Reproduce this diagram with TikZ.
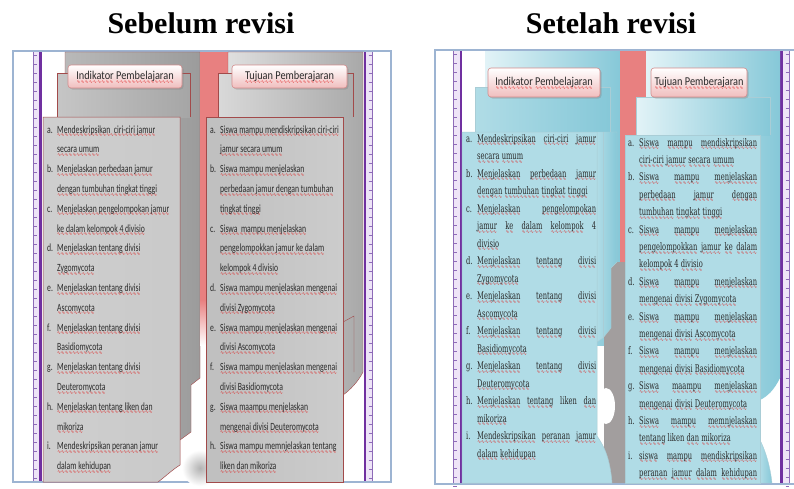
\documentclass[tikz,border=0pt]{standalone}
\usepackage{fontspec}
\usetikzlibrary{shadows}
\setmainfont{Liberation Serif}
\newfontfamily\handfont[FakeStretch=0.7]{Carlito}
\newfontfamily\tabfont[FakeStretch=0.86]{Carlito}
\newfontfamily\bookfont[FakeStretch=0.64]{DejaVu Serif}
\newfontfamily\wavefamily{DejaVu Sans}

\definecolor{framebl}{HTML}{9DB4D2}
\definecolor{rulerpu}{HTML}{7030A0}
\definecolor{rulerbg}{HTML}{EEE4F7}
\definecolor{tickpu}{HTML}{8E6BB8}
\definecolor{stripred}{HTML}{E88080}
\definecolor{edgered}{HTML}{A24A4A}
\definecolor{tabpink}{HTML}{F0BEBE}
\definecolor{tabedge}{HTML}{D48C8C}
\definecolor{squig}{HTML}{E02020}
\definecolor{inkgray}{HTML}{2A2A2A}
\definecolor{bluelt}{HTML}{E2F3F7}
\definecolor{bluedk}{HTML}{86C8D8}
\definecolor{bluemid}{HTML}{B0DCE6}
\definecolor{bluepale}{HTML}{EEF8FA}
\definecolor{edgeblue}{HTML}{A9CDD6}
\definecolor{shadowgray}{HTML}{A29E9E}

% red wavy underline (spell-check style), built from a repeated wave glyph
\newsavebox\ubox
\newcommand\wavefont{\wavefamily\fontsize{4.5}{5}\selectfont}
\newcommand\U[1]{\sbox\ubox{#1}%
  \rlap{\raisebox{-3.6pt}[0pt][0pt]{\makebox[\wd\ubox][l]{\color{squig}\xleaders\hbox{\wavefont ∿}\hfill}}}%
  \usebox\ubox}
\newlength\labw
\newlength\jw
\newcommand\lab[1]{\makebox[\labw][l]{#1}}
\newcommand\cont{\hspace*{\labw}}
\newcommand\J[1]{\makebox[\jw][s]{#1}}

\tikzset{
  hand/.style={font=\handfont\fontsize{11}{12}\selectfont, text=inkgray, inner sep=0pt, anchor=base west},
  book/.style={font=\bookfont\fontsize{10.5}{12}\selectfont, text=inkgray, inner sep=0pt, anchor=base west},
  tabbox/.style={draw=tabedge, line width=0.6pt, rounded corners=3pt, top color=white, bottom color=tabpink,
    drop shadow={opacity=0.35, shadow xshift=1.5pt, shadow yshift=-1.5pt},
    font=\tabfont\fontsize{12}{14}\selectfont, text=inkgray, inner sep=0pt},
  heading/.style={font=\bfseries\fontsize{30}{34}\selectfont, inner sep=0pt, anchor=base},
  ticks/.style={tickpu, line width=0.6pt},
}

\begin{document}
\begin{tikzpicture}[x=1pt,y=-1pt]
\useasboundingbox (0,0) rectangle (794,488);
\clip (0,0) rectangle (794,488);
\fill[white] (0,0) rectangle (794,488);

% ---------------- headings ----------------
\node[heading] (head1) at (201,33) {Sebelum revisi};
\node[heading] (head2) at (611,33) {Setelah revisi};

% ================= left panel =================
\draw[framebl, line width=1.5pt, fill=white] (13,51) rectangle (391,482);
% rulers
\fill[rulerbg] (33,52) rectangle (39.3,481);
\draw[tickpu, line width=0.5pt] (33,52) -- (33,481);
\foreach \k in {0,...,47} \draw[ticks] (33,{55+9*\k}) -- (36.5,{55+9*\k});
\fill[rulerpu] (39.3,52) rectangle (41.8,481);
\fill[rulerpu] (363.5,52) rectangle (366,481);
\fill[rulerbg] (366,52) rectangle (372,481);
\draw[tickpu, line width=0.5pt] (372,52) -- (372,481);
\foreach \k in {0,...,47} \draw[ticks] (368.5,{55+9*\k}) -- (372,{55+9*\k});

% back pages
\shade[left color=gray!55, middle color=gray!22, right color=gray!78, draw=edgered, line width=0.4pt]
  (65,52) -- (200,52) -- (200,378) -- (191,385) -- (191,432) -- (180,440) -- (65,440) -- cycle;
\fill[stripred] (200,52) rectangle (228,300);
\shade[top color=stripred, bottom color=white] (200,300) rectangle (228,345);
\shade[left color=gray!25, right color=gray!68, draw=edgered, line width=0.4pt]
  (228,52) -- (363,52) -- (363,372) .. controls (358,382) and (350,390) .. (343,395) -- (228,395) -- cycle;
\draw[edgered, line width=0.4pt] (343,322) -- (354,316) -- (354,372);
\shade[inner color=gray!60, outer color=white] (200,468) circle (18);
% middle tier of pages
\shade[left color=gray!45, middle color=gray!22, right color=gray!70, draw=edgered, line width=0.5pt]
  (57,117) -- (57,73) -- (190,73) -- (190,117);
\shade[left color=gray!30, middle color=gray!25, right color=gray!65, draw=edgered, line width=0.5pt]
  (218,117) -- (218,73) -- (353,73) -- (353,117);
% front text pages
\shade[left color=gray!38, middle color=gray!12, right color=gray!42, draw=edgered, line width=0.5pt]
  (43,117) -- (180,117) -- (180,465) .. controls (172,470) and (166,476) .. (158,482) -- (43,482) -- cycle;
\shade[left color=gray!50, middle color=gray!14, right color=gray!40, draw=edgered, line width=0.5pt]
  (206,117) -- (343,117) -- (343,482) -- (206,482) -- cycle;
% tabs
\node[tabbox, minimum width=114pt, minimum height=23pt] (tabA1) at (125,76.5) {\U{Indikator} \U{Pembelajaran}};
\node[tabbox, minimum width=115pt, minimum height=23pt] (tabA2) at (289.5,76.5) {\U{Tujuan} \U{Pemberajaran}};

% text, left page
\setlength{\labw}{10pt}
\foreach \t [count=\i from 0] in {
  {\lab{a.}\U{Mendeskripsikan\ \ ciri-ciri jamur}},
  {\cont\U{secara umum}},
  {\lab{b.}\U{Menjelaskan perbedaan jamur}},
  {\cont\U{dengan tumbuhan tingkat tinggi}},
  {\lab{c.}\U{Menjelaskan pengelompokan jamur}},
  {\cont\U{ke dalam kelompok 4 divisio}},
  {\lab{d.}\U{Menjelaskan tentang divisi}},
  {\cont\U{Zygomycota}},
  {\lab{e.}\U{Menjelaskan tentang divisi}},
  {\cont\U{Ascomycota}},
  {\lab{f.}\U{Menjelaskan tentang divisi}},
  {\cont\U{Basidiomycota}},
  {\lab{g.}\U{Menjelaskan tentang divisi}},
  {\cont\U{Deuteromycota}},
  {\lab{h.}\U{Menjelaskan tentang liken dan}},
  {\cont\U{mikoriza}},
  {\lab{i.}\U{Mendeskripsikan peranan jamur}},
  {\cont\U{dalam kehidupan}}}
  \node[hand] (la-\i) at (47,{133+19.8*\i}) {\t};
% text, right page
\foreach \t [count=\i from 0] in {
  {\lab{a.}\U{Siswa mampu mendiskripsikan ciri-ciri}},
  {\cont\U{jamur secara umum}},
  {\lab{b.}\U{Siswa mampu menjelaskan}},
  {\cont\U{perbedaan jamur dengan tumbuhan}},
  {\cont\U{tingkat tinggi}},
  {\lab{c.}\U{Siswa\ \ mampu menjelaskan}},
  {\cont\U{pengelompokkan jamur ke dalam}},
  {\cont\U{kelompok 4 divisio}},
  {\lab{d.}\U{Siswa mampu menjelaskan mengenai}},
  {\cont\U{divisi Zygomycota}},
  {\lab{e.}\U{Siswa mampu menjelaskan mengenai}},
  {\cont\U{divisi Ascomycota}},
  {\lab{f.}\U{Siswa mampu menjelaskan mengenai}},
  {\cont\U{divisi Basidiomycota}},
  {\lab{g.}\U{Siswa maampu menjelaskan}},
  {\cont\U{mengenai divisi Deuteromycota}},
  {\lab{h.}\U{Siswa mampu memnjelaskan tentang}},
  {\cont\U{liken dan mikoriza}}}
  \node[hand] (lb-\i) at (210,{133+19.8*\i}) {\t};

% ================= right panel =================
\draw[framebl, line width=1.5pt, fill=white] (435,50) rectangle (800,484);
\fill[rulerbg] (453,51) rectangle (459.5,483);
\draw[tickpu, line width=0.5pt] (453,51) -- (453,483);
\foreach \k in {0,...,48} \draw[ticks] (453,{54+9*\k}) -- (456.5,{54+9*\k});
\fill[rulerpu] (459.5,51) rectangle (462,483);
\fill[rulerpu] (780,51) rectangle (782.5,483);
\fill[rulerbg] (782.5,51) rectangle (789,483);
\draw[tickpu, line width=0.5pt] (789,51) -- (789,483);
\foreach \k in {0,...,48} \draw[ticks] (785.5,{54+9*\k}) -- (789,{54+9*\k});

% back pages
\shade[left color=bluelt, right color=bluedk] (485,51) rectangle (620,345);
\fill[stripred] (620,51) rectangle (646,268);
\fill[shadowgray] (604,262) rectangle (646,483);
\fill[white] (606,406) ellipse (9 and 18);
\shade[left color=bluelt, right color=bluedk]
  (646,51) -- (780,51) -- (780,378) .. controls (774,390) and (768,396) .. (760,400) -- (646,400) -- cycle;
\shade[left color=bluemid, right color=bluedk, draw=edgeblue, line width=0.4pt]
  (760,440) .. controls (766,452) and (770,466) .. (772,483) -- (760,483) -- cycle;
% middle tier of pages
\shade[left color=bluemid, middle color=bluelt, right color=bluedk, draw=edgeblue, line width=0.5pt]
  (475,132) -- (475,87) -- (610,87) -- (610,132);
\shade[left color=bluelt, right color=bluedk, draw=edgeblue, line width=0.5pt]
  (636,135) -- (636,97) -- (770,97) -- (770,135);
% curled edges between the pages
\shade[left color=bluemid, right color=bluedk, draw=edgeblue, line width=0.4pt]
  (597,132) -- (617,132) -- (617,262) -- (611,268) -- (611,328) -- (603,338) -- (597,342) -- cycle;
\draw[edgeblue, line width=0.4pt] (603,132) -- (603,338);
% front text pages
\shade[left color=bluemid, middle color=bluepale, right color=bluemid, draw=edgeblue, line width=0.5pt]
  (462,132) -- (597,132) -- (597,436) .. controls (604,446) and (610,458) .. (612,483) -- (462,483) -- cycle;
\shade[left color=bluemid, middle color=bluepale, right color=bluemid, draw=edgeblue, line width=0.5pt]
  (625,135) -- (760,135) -- (760,483) -- (625,483) -- cycle;
% tabs
\node[tabbox, minimum width=112pt, minimum height=29pt] (tabB1) at (544,82.5) {\U{Indikator} \U{Pembelajaran}};
\node[tabbox, minimum width=96pt, minimum height=29pt] (tabB2) at (699,82.5) {\U{Tujuan} \U{Pemberajaran}};

% text, left page
\setlength{\labw}{11pt}
\setlength{\jw}{119pt}
\foreach \t [count=\i from 0] in {
  {\lab{a.}\J{\U{Mendeskripsikan} \U{ciri-ciri} \U{jamur}}},
  {\cont\U{secara} \U{umum}},
  {\lab{b.}\J{\U{Menjelaskan} \U{perbedaan} \U{jamur}}},
  {\cont\U{dengan} \U{tumbuhan} \U{tingkat} \U{tinggi}},
  {\lab{c.}\J{\U{Menjelaskan} \U{pengelompokan}}},
  {\cont\J{\U{jamur} \U{ke} \U{dalam} \U{kelompok} 4}},
  {\cont\U{divisio}},
  {\lab{d.}\J{\U{Menjelaskan} \U{tentang} \U{divisi}}},
  {\cont\U{Zygomycota}},
  {\lab{e.}\J{\U{Menjelaskan} \U{tentang} \U{divisi}}},
  {\cont\U{Ascomycota}},
  {\lab{f.}\J{\U{Menjelaskan} \U{tentang} \U{divisi}}},
  {\cont\U{Basidiomycota}},
  {\lab{g.}\J{\U{Menjelaskan} \U{tentang} \U{divisi}}},
  {\cont\U{Deuteromycota}},
  {\lab{h.}\J{\U{Menjelaskan} \U{tentang} liken \U{dan}}},
  {\cont\U{mikoriza}},
  {\lab{i.}\J{\U{Mendeskripsikan} \U{peranan} \U{jamur}}},
  {\cont\U{dalam} \U{kehidupan}}}
  \node[book] (ra-\i) at (466,{142+17.5*\i}) {\t};
% text, right page
\setlength{\jw}{118pt}
\foreach \t [count=\i from 0] in {
  {\lab{a.}\J{\U{Siswa} \U{mampu} \U{mendiskripsikan}}},
  {\cont\U{ciri-ciri} \U{jamur} \U{secara} \U{umum}},
  {\lab{b.}\J{\U{Siswa} \U{mampu} \U{menjelaskan}}},
  {\cont\J{\U{perbedaan} \U{jamur} \U{dengan}}},
  {\cont\U{tumbuhan} \U{tingkat} \U{tinggi}},
  {\lab{c.}\J{\U{Siswa} \U{mampu} \U{menjelaskan}}},
  {\cont\J{\U{pengelompokkan} \U{jamur} \U{ke} \U{dalam}}},
  {\cont\U{kelompok} 4 \U{divisio}},
  {\lab{d.}\J{\U{Siswa} \U{mampu} \U{menjelaskan}}},
  {\cont\U{mengenai} \U{divisi} \U{Zygomycota}},
  {\lab{e.}\J{\U{Siswa} \U{mampu} \U{menjelaskan}}},
  {\cont\U{mengenai} \U{divisi} \U{Ascomycota}},
  {\lab{f.}\J{\U{Siswa} \U{mampu} \U{menjelaskan}}},
  {\cont\U{mengenai} \U{divisi} \U{Basidiomycota}},
  {\lab{g.}\J{\U{Siswa} \U{maampu} \U{menjelaskan}}},
  {\cont\U{mengenai} \U{divisi} \U{Deuteromycota}},
  {\lab{h.}\J{\U{Siswa} \U{mampu} \U{memnjelaskan}}},
  {\cont\U{tentang} liken \U{dan} \U{mikoriza}},
  {\lab{i.}\J{\U{siswa} \U{mampu} \U{mendiskripsikan}}},
  {\cont\J{\U{peranan} \U{jamur} \U{dalam} \U{kehidupan}}}}
  \node[book] (rb-\i) at (628,{146+17.4*\i}) {\t};
\end{tikzpicture}
\end{document}
